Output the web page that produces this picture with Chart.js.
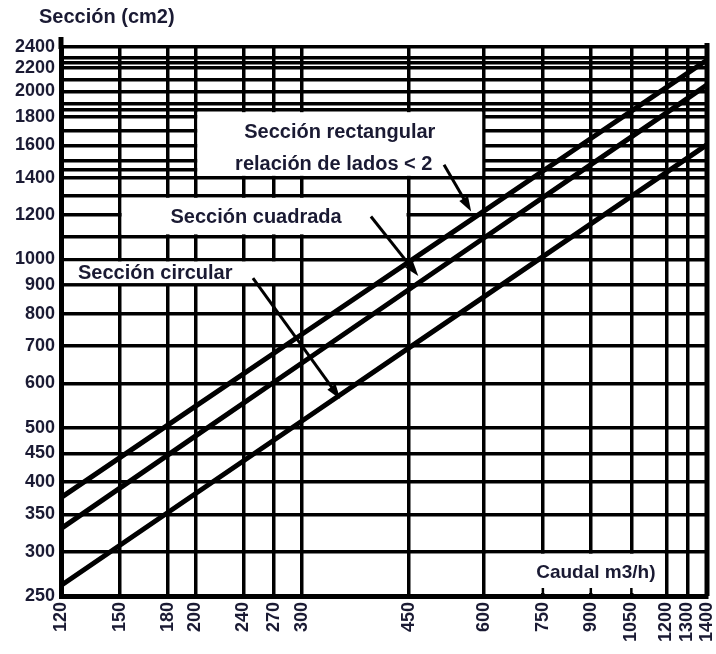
<!DOCTYPE html>
<html>
<head>
<meta charset="utf-8">
<script src="https://cdn.jsdelivr.net/npm/chart.js@4.4.1/dist/chart.umd.min.js"></script>
<style>
  html, body { margin: 0; padding: 0; background: #fff; }
  #wrap { width: 716px; height: 654px; }
</style>
</head>
<body>
<div id="wrap"><canvas id="ductChart" width="716" height="654"></canvas></div>
<script>
// Caudal (m3/h) where each line was read
const caudal = [120, 200, 300, 450, 600, 900, 1200, 1400];
// Sección (cm2) for each duct shape
const seccionRect = [375, 546, 735, 989, 1222, 1646, 2032, 2275];
const seccionCuad = [330, 483, 653, 883, 1094, 1478, 1830, 2053];
const seccionCirc = [261, 381, 514, 694, 858, 1158, 1432, 1605];

const xTicks = [120, 150, 180, 200, 240, 270, 300, 450, 600, 750, 900, 1050, 1200, 1300, 1400];
const yLabels = [250, 300, 350, 400, 450, 500, 600, 700, 800, 900, 1000, 1200, 1400, 1600, 1800, 2000, 2200, 2400];
const yExtraGrid = [1100, 1300, 1450, 1500, 1700, 1850, 1900, 2100, 2250, 2300];
const caudalMarks = [750, 900, 1050];

const textColor = '#1a1a33';
const fontFamily = '"Liberation Sans", Arial, sans-serif';

// white label boxes, in data units
const boxes = [
    { x: [200, 600], y: [1400, 1850] },
    { x: [150, 450], y: [1100, 1300] },
    { x: [120, 300], y: [900, 1000] },
    { x: [600, 1200], y: [250, 300] }
];

// arrows from the labels to the lines, in data units
const arrows = [
    { from: [515, 1478], to: [571, 1219] },
    { from: [390, 1194], to: [467, 934] },
    { from: [249, 926], to: [347, 563] }
];

const toPoints = (vals) => caudal.map((c, i) => ({ x: c, y: vals[i] }));

const notesPlugin = {
    id: 'notes',
    beforeDatasetsDraw(chart) {
        const { ctx, chartArea } = chart;
        const x = chart.scales.x, y = chart.scales.y;
        ctx.save();

        // boxes over the grid
        ctx.fillStyle = '#fff';
        const rects = boxes.map(b => {
            const x0 = Math.max(x.getPixelForValue(b.x[0]) + 2, chartArea.left + 3);
            const x1 = x.getPixelForValue(b.x[1]) - 2;
            const y0 = y.getPixelForValue(b.y[1]) + 2;
            const y1 = Math.min(y.getPixelForValue(b.y[0]) - 2, chartArea.bottom - 3);
            ctx.fillRect(x0, y0, x1 - x0, y1 - y0);
            return { x0, x1, y0, y1 };
        });

        ctx.fillStyle = textColor;
        ctx.textBaseline = 'middle';
        ctx.font = 'bold 20px ' + fontFamily;

        const r0 = rects[0];
        const mid0 = (r0.y0 + r0.y1) / 2;
        ctx.textAlign = 'center';
        ctx.fillText('Sección rectangular', (r0.x0 + r0.x1) / 2, mid0 - 12);
        ctx.fillText('relación de lados < 2', (r0.x0 + r0.x1) / 2 - 6, mid0 + 20);

        const r1 = rects[1];
        ctx.fillText('Sección cuadrada', (r1.x0 + r1.x1) / 2 - 8, (r1.y0 + r1.y1) / 2 + 1);

        const r2 = rects[2];
        ctx.textAlign = 'left';
        ctx.fillText('Sección circular', r2.x0 + 14, (r2.y0 + r2.y1) / 2 + 1);

        const r3 = rects[3];
        ctx.textAlign = 'right';
        ctx.font = 'bold 19px ' + fontFamily;
        ctx.fillText('Caudal m3/h)', r3.x1 - 9, (r3.y0 + r3.y1) / 2 - 1);

        // short marks on the x axis inside the Caudal box
        ctx.strokeStyle = '#000';
        ctx.lineWidth = 2.5;
        caudalMarks.forEach(v => {
            const px = x.getPixelForValue(v);
            ctx.beginPath();
            ctx.moveTo(px, chartArea.bottom);
            ctx.lineTo(px, chartArea.bottom - 8);
            ctx.stroke();
        });

        // axis title and the left axis sticking out at the top
        ctx.textAlign = 'left';
        ctx.font = 'bold 20px ' + fontFamily;
        ctx.fillText('Sección (cm2)', 39, 17);
        ctx.lineWidth = 5;
        ctx.beginPath();
        ctx.moveTo(chartArea.left, chartArea.top - 10);
        ctx.lineTo(chartArea.left, chartArea.top + 2);
        ctx.stroke();
        ctx.beginPath();
        ctx.moveTo(chartArea.right, chartArea.top - 4);
        ctx.lineTo(chartArea.right, chartArea.bottom);
        ctx.stroke();

        ctx.restore();
    },
    afterDatasetsDraw(chart) {
        const { ctx } = chart;
        const x = chart.scales.x, y = chart.scales.y;
        ctx.save();
        ctx.strokeStyle = '#000';
        ctx.fillStyle = '#000';
        ctx.lineWidth = 3;
        arrows.forEach(a => {
            const x0 = x.getPixelForValue(a.from[0]), y0 = y.getPixelForValue(a.from[1]);
            const x1 = x.getPixelForValue(a.to[0]), y1 = y.getPixelForValue(a.to[1]);
            const ang = Math.atan2(y1 - y0, x1 - x0);
            ctx.beginPath();
            ctx.moveTo(x0, y0);
            ctx.lineTo(x1 - 8 * Math.cos(ang), y1 - 8 * Math.sin(ang));
            ctx.stroke();
            ctx.beginPath();
            ctx.moveTo(x1, y1);
            ctx.lineTo(x1 - 15 * Math.cos(ang) + 5 * Math.sin(ang), y1 - 15 * Math.sin(ang) - 5 * Math.cos(ang));
            ctx.lineTo(x1 - 15 * Math.cos(ang) - 5 * Math.sin(ang), y1 - 15 * Math.sin(ang) + 5 * Math.cos(ang));
            ctx.closePath();
            ctx.fill();
        });
        ctx.restore();
    }
};

const lineStyle = { borderColor: '#000', borderWidth: 5, pointRadius: 0, tension: 0, fill: false };

new Chart(document.getElementById('ductChart'), {
    type: 'line',
    data: {
        datasets: [
            { label: 'Sección rectangular', data: toPoints(seccionRect), ...lineStyle },
            { label: 'Sección cuadrada', data: toPoints(seccionCuad), ...lineStyle },
            { label: 'Sección circular', data: toPoints(seccionCirc), ...lineStyle }
        ]
    },
    options: {
        responsive: false,
        animation: false,
        devicePixelRatio: 1,
        layout: { padding: { top: 47, right: 9, left: 0, bottom: 0 } },
        plugins: {
            legend: { display: false },
            tooltip: { enabled: false }
        },
        scales: {
            x: {
                type: 'logarithmic',
                min: 120,
                max: 1400,
                afterBuildTicks: (scale) => { scale.ticks = xTicks.map(v => ({ value: v })); },
                afterFit: (scale) => {
                    scale.height = 58;
                    scale.paddingLeft = 0;
                    scale.paddingRight = 0;
                },
                ticks: {
                    autoSkip: false,
                    minRotation: 90,
                    maxRotation: 90,
                    padding: 6,
                    color: textColor,
                    font: { family: fontFamily, size: 18, weight: 'bold' },
                    callback: (v) => String(v)
                },
                grid: { color: '#000', lineWidth: 3.5, drawTicks: false },
                border: { color: '#000', width: 5 }
            },
            y: {
                type: 'logarithmic',
                min: 250,
                max: 2400,
                afterBuildTicks: (scale) => {
                    scale.ticks = yLabels.concat(yExtraGrid).sort((a, b) => a - b).map(v => ({ value: v }));
                },
                afterFit: (scale) => {
                    scale.width = 61;
                    scale.paddingTop = 0;
                    scale.paddingBottom = 0;
                },
                ticks: {
                    autoSkip: false,
                    padding: 6,
                    color: textColor,
                    font: { family: fontFamily, size: 18, weight: 'bold' },
                    callback: (v) => yLabels.includes(v) ? String(v) : ''
                },
                grid: { color: '#000', lineWidth: 3.5, drawTicks: false },
                border: { color: '#000', width: 5 }
            }
        }
    },
    plugins: [notesPlugin]
});
</script>
</body>
</html>
